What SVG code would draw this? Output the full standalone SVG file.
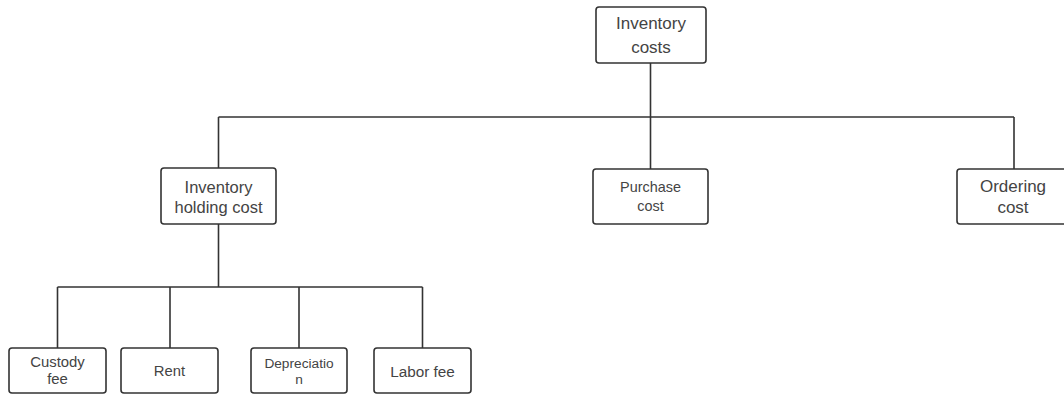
<svg xmlns="http://www.w3.org/2000/svg" width="1064" height="394" viewBox="0 0 1064 394">
<style>
.box{fill:#fff;stroke:#333;stroke-width:1.6}
.ln{fill:none;stroke:#333;stroke-width:1.6}
text{font-family:"Liberation Sans",Arial,sans-serif;fill:#444;text-anchor:middle}
</style>
<rect width="1064" height="394" fill="#fff"/>
<g id="connectors">
<path class="ln" d="M650.5 63V117M218.5 117H1014M218.5 117V168M650.5 117V169M1014 117V169"/>
<path class="ln" d="M218.5 224V287M57.5 287H422.5M57.5 287V348M170 287V348M299 287V348M422.5 287V348"/>
</g>
<g id="n-inventory-costs">
<rect class="box" x="596" y="7" width="110" height="56" rx="3"/>
<text x="651" y="28.5" font-size="17">Inventory</text>
<text x="651" y="52.5" font-size="17">costs</text>
</g>
<g id="n-holding">
<rect class="box" x="161" y="168" width="115" height="56" rx="3"/>
<text x="218.5" y="193.3" font-size="16.5">Inventory</text>
<text x="218.5" y="213.3" font-size="16.5">holding cost</text>
</g>
<g id="n-purchase">
<rect class="box" x="593" y="169" width="115" height="55" rx="3"/>
<text x="650.5" y="191.7" font-size="14.4">Purchase</text>
<text x="650.5" y="210.7" font-size="14.4">cost</text>
</g>
<g id="n-ordering">
<rect class="box" x="957" y="169" width="115" height="55" rx="3"/>
<text x="1013" y="192.3" font-size="17">Ordering</text>
<text x="1013" y="213.3" font-size="17">cost</text>
</g>
<g id="n-custody">
<rect class="box" x="9" y="348" width="97" height="45" rx="3"/>
<text x="57.5" y="366.7" font-size="14.9">Custody</text>
<text x="57.5" y="384" font-size="14.9">fee</text>
</g>
<g id="n-rent">
<rect class="box" x="121" y="348" width="97" height="45" rx="3"/>
<text x="169.5" y="376" font-size="14.8">Rent</text>
</g>
<g id="n-depreciation">
<rect class="box" x="251" y="348" width="96" height="45" rx="3"/>
<text x="299" y="368" font-size="13.7">Depreciatio</text>
<text x="299" y="384.3" font-size="13.7">n</text>
</g>
<g id="n-labor">
<rect class="box" x="374" y="348" width="97" height="45" rx="3"/>
<text x="422.5" y="377" font-size="15.3">Labor fee</text>
</g>
</svg>
